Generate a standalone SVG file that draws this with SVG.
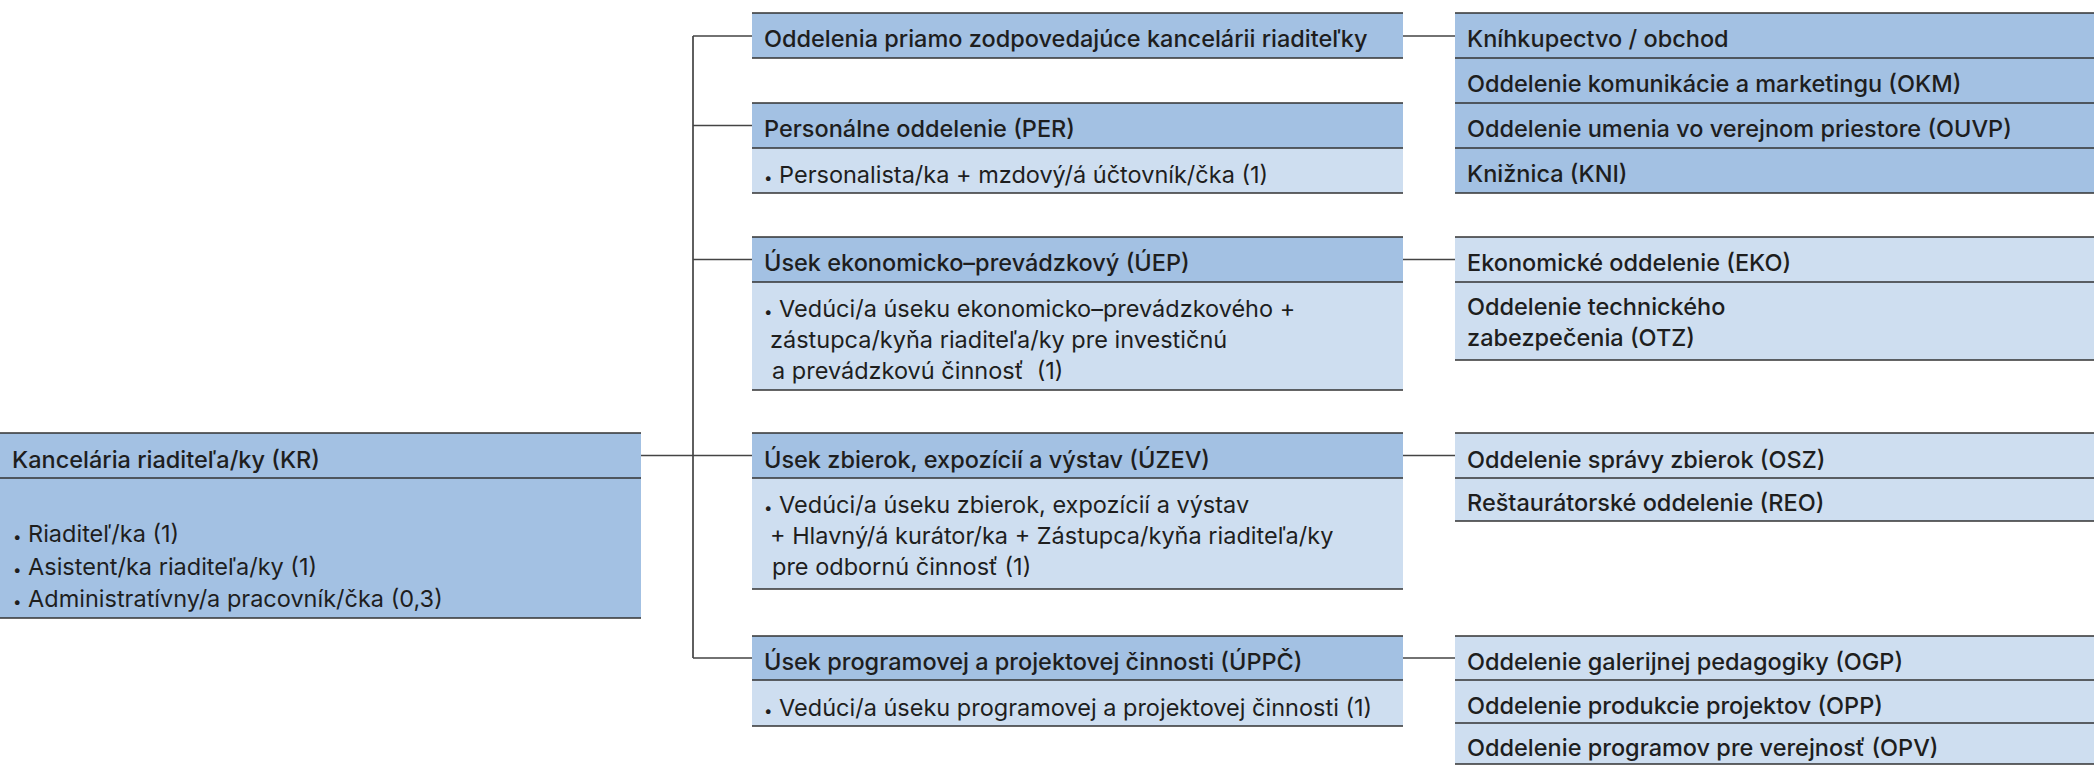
<svg xmlns="http://www.w3.org/2000/svg" width="2094" height="765" viewBox="0 0 2094 765">
<style>
.bg{fill:#ffffff}
.dk{fill:#a3c1e3}
.lt{fill:#cedef0}
.ln{stroke:#333333;stroke-width:1.7;fill:none}
.cn{stroke:#444444;stroke-width:1.7;fill:none}
text{font-family:Inter,"Liberation Sans",Arial,sans-serif;font-size:23.5px;fill:#1e1e1e}
.h{font-weight:500}
.b{font-weight:400}
.bul{font-size:15px}
</style>
<rect class="bg" x="0" y="0" width="2094" height="765"/>

<g id="connectors">
<path class="cn" d="M641 455.5H693M693 36V658M693 36H752M693 125.5H752M693 259.5H752M693 455.5H752M693 658H752"/>
<path class="cn" d="M1403 36H1455M1403 259.5H1455M1403 455.5H1455M1403 658H1455"/>
</g>

<g id="kr">
<rect class="dk" x="0" y="433" width="641" height="185"/>
<path class="ln" d="M0 433H641M0 478H641M0 618H641"/>
<text class="h" x="12" y="468">Kancelária riaditeľa/ky (KR)</text>
<text class="b" x="13" y="542"><tspan class="bul">•</tspan> Riaditeľ/ka (1)</text>
<text class="b" x="13" y="575"><tspan class="bul">•</tspan> Asistent/ka riaditeľa/ky (1)</text>
<text class="b" x="13" y="607"><tspan class="bul">•</tspan> Administratívny/a pracovník/čka (0,3)</text>
</g>

<g id="odd-priamo">
<rect class="dk" x="752" y="13" width="651" height="45"/>
<path class="ln" d="M752 13H1403M752 58H1403"/>
<text class="h" x="764" y="47">Oddelenia priamo zodpovedajúce kancelárii riaditeľky</text>
</g>

<g id="per">
<rect class="dk" x="752" y="103" width="651" height="45"/>
<rect class="lt" x="752" y="148" width="651" height="45"/>
<path class="ln" d="M752 103H1403M752 148H1403M752 193H1403"/>
<text class="h" x="764" y="137">Personálne oddelenie (PER)</text>
<text class="b" x="764" y="183"><tspan class="bul">•</tspan> Personalista/ka + mzdový/á účtovník/čka (1)</text>
</g>

<g id="uep">
<rect class="dk" x="752" y="237" width="651" height="45"/>
<rect class="lt" x="752" y="282" width="651" height="108"/>
<path class="ln" d="M752 237H1403M752 282H1403M752 390H1403"/>
<text class="h" x="764" y="271">Úsek ekonomicko–prevádzkový (ÚEP)</text>
<text class="b" x="764" y="317"><tspan class="bul">•</tspan> Vedúci/a úseku ekonomicko–prevádzkového +</text>
<text class="b" x="770" y="348">zástupca/kyňa riaditeľa/ky pre investičnú</text>
<text class="b" x="772" y="379" xml:space="preserve">a prevádzkovú činnosť  (1)</text>
</g>

<g id="uzev">
<rect class="dk" x="752" y="433" width="651" height="45"/>
<rect class="lt" x="752" y="478" width="651" height="111"/>
<path class="ln" d="M752 433H1403M752 478H1403M752 589H1403"/>
<text class="h" x="764" y="468">Úsek zbierok, expozícií a výstav (ÚZEV)</text>
<text class="b" x="764" y="513"><tspan class="bul">•</tspan> Vedúci/a úseku zbierok, expozícií a výstav</text>
<text class="b" x="770" y="544">+ Hlavný/á kurátor/ka + Zástupca/kyňa riaditeľa/ky</text>
<text class="b" x="772" y="575">pre odbornú činnosť (1)</text>
</g>

<g id="uppc">
<rect class="dk" x="752" y="636" width="651" height="44"/>
<rect class="lt" x="752" y="680" width="651" height="46"/>
<path class="ln" d="M752 636H1403M752 680H1403M752 726H1403"/>
<text class="h" x="764" y="670">Úsek programovej a projektovej činnosti (ÚPPČ)</text>
<text class="b" x="764" y="716"><tspan class="bul">•</tspan> Vedúci/a úseku programovej a projektovej činnosti (1)</text>
</g>

<g id="r-group1">
<rect class="dk" x="1455" y="13" width="639" height="180"/>
<path class="ln" d="M1455 13H2094M1455 58H2094M1455 103H2094M1455 148H2094M1455 193H2094"/>
<text class="h" x="1467" y="47">Kníhkupectvo / obchod</text>
<text class="h" x="1467" y="92">Oddelenie komunikácie a marketingu (OKM)</text>
<text class="h" x="1467" y="137">Oddelenie umenia vo verejnom priestore (OUVP)</text>
<text class="h" x="1467" y="182">Knižnica (KNI)</text>
</g>

<g id="r-group2">
<rect class="lt" x="1455" y="237" width="639" height="123"/>
<path class="ln" d="M1455 237H2094M1455 282H2094M1455 360H2094"/>
<text class="h" x="1467" y="271">Ekonomické oddelenie (EKO)</text>
<text class="h" x="1467" y="315">Oddelenie technického</text>
<text class="h" x="1467" y="346">zabezpečenia (OTZ)</text>
</g>

<g id="r-group3">
<rect class="lt" x="1455" y="433" width="639" height="88"/>
<path class="ln" d="M1455 433H2094M1455 478H2094M1455 521H2094"/>
<text class="h" x="1467" y="468">Oddelenie správy zbierok (OSZ)</text>
<text class="h" x="1467" y="511">Reštaurátorské oddelenie (REO)</text>
</g>

<g id="r-group4">
<rect class="lt" x="1455" y="636" width="639" height="128"/>
<path class="ln" d="M1455 636H2094M1455 680H2094M1455 723H2094M1455 764H2094"/>
<text class="h" x="1467" y="670">Oddelenie galerijnej pedagogiky (OGP)</text>
<text class="h" x="1467" y="714">Oddelenie produkcie projektov (OPP)</text>
<text class="h" x="1467" y="756">Oddelenie programov pre verejnosť (OPV)</text>
</g>
</svg>
